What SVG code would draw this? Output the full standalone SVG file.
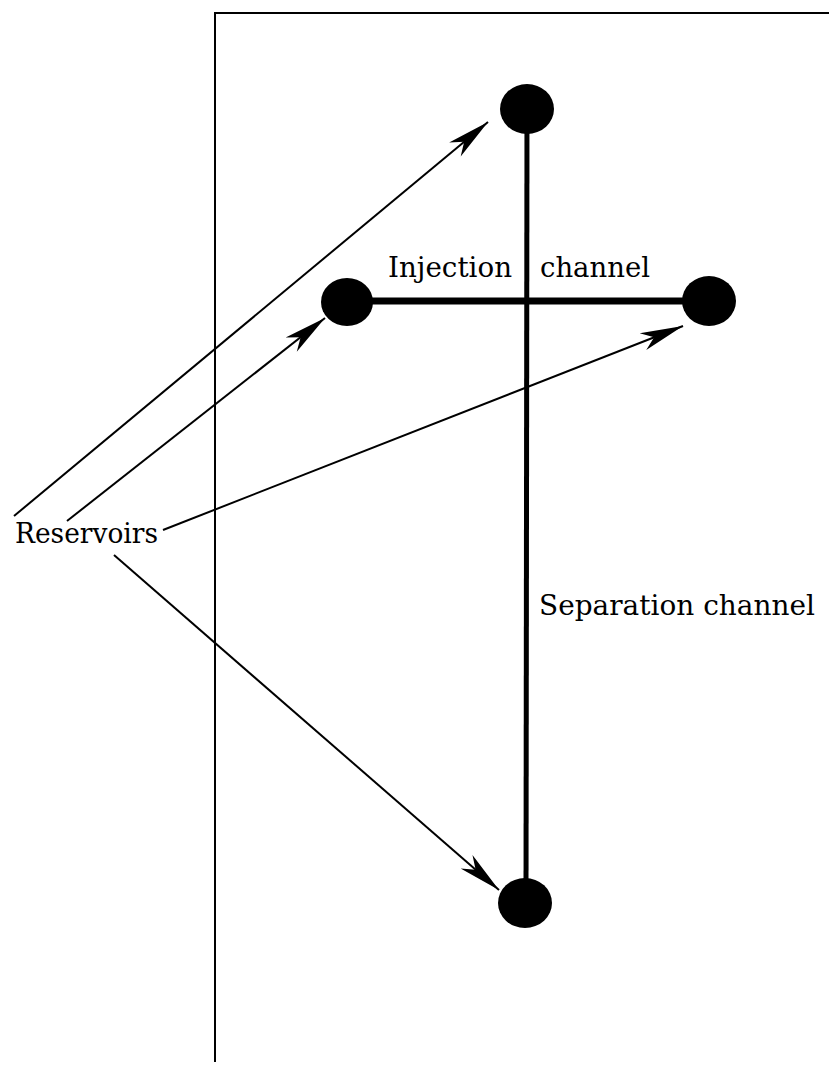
<svg xmlns="http://www.w3.org/2000/svg" width="829" height="1065" viewBox="0 0 829 1065">
<style>
.frame{fill:none;stroke:#000;stroke-width:2}
.chan{stroke:#000;fill:none}
.res{fill:#000}
.arr{stroke:#000;stroke-width:2;fill:none;marker-end:url(#ah)}
.lbl{font-family:"DejaVu Serif",serif;font-size:27px;fill:#000}
</style>
<defs>
<marker id="ah" markerUnits="userSpaceOnUse" viewBox="-46 -11 48 22" refX="0" refY="0" markerWidth="48" markerHeight="22" orient="auto">
<path d="M0,0 L-43,-9 L-31,0 L-43,9 Z" fill="#000"/>
</marker>
</defs>
<g id="frame">
<path class="frame" d="M215,1062 L215,13 L829,13"/>
</g>
<g id="channels">
<line id="separation-channel" class="chan" x1="527" y1="109" x2="526" y2="903" stroke-width="5"/>
<line id="injection-channel" class="chan" x1="347" y1="301" x2="709" y2="301" stroke-width="7"/>
</g>
<g id="reservoir-top"><ellipse class="res" cx="527" cy="109" rx="27" ry="25"/></g>
<g id="reservoir-left"><ellipse class="res" cx="347" cy="302" rx="26" ry="24"/></g>
<g id="reservoir-right"><ellipse class="res" cx="709" cy="301" rx="27" ry="25"/></g>
<g id="reservoir-bottom"><ellipse class="res" cx="525" cy="903" rx="27" ry="25"/></g>
<g id="connectors">
<line class="arr" x1="14" y1="516" x2="488" y2="122"/>
<line class="arr" x1="67" y1="521" x2="325" y2="318"/>
<line class="arr" x1="163" y1="530" x2="683" y2="326"/>
<line class="arr" x1="114" y1="555" x2="499" y2="890"/>
</g>
<g id="labels">
<text class="lbl" x="388" y="277" textLength="124" lengthAdjust="spacingAndGlyphs">Injection</text>
<text class="lbl" x="540" y="277" textLength="110" lengthAdjust="spacingAndGlyphs">channel</text>
<text class="lbl" x="15" y="543" textLength="143" lengthAdjust="spacingAndGlyphs">Reservoirs</text>
<text class="lbl" x="539" y="615" textLength="276" lengthAdjust="spacingAndGlyphs">Separation channel</text>
</g>
</svg>
